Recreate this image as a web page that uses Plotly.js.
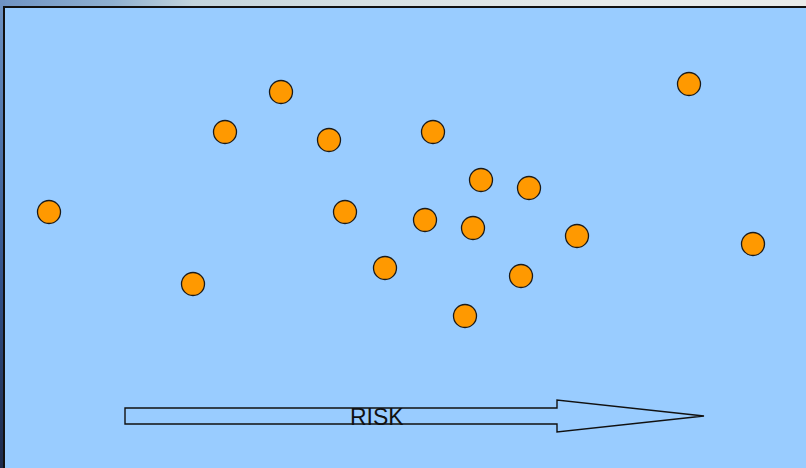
<!DOCTYPE html>
<html>
<head>
<meta charset="utf-8">
<script src="https://cdn.plot.ly/plotly-3.0.1.min.js"></script>
<style>
  html, body { margin: 0; padding: 0; width: 806px; height: 468px; overflow: hidden; }
  #topbar { position: absolute; left: 0; top: 0; width: 806px; height: 8px;
    background: linear-gradient(to right, #6f93c3 0%, #8fb0d0 14%, #c3d4dc 24%, #d6e0e3 45%, #e6eaea 75%, #e8ebea 100%); }
  #leftbar { position: absolute; left: 0; top: 0; width: 5px; height: 468px;
    background: linear-gradient(to bottom, #6f93c3 0%, #4f74aa 30%, #33528a 60%, #1d2a4a 100%); }
  #chart { position: absolute; left: 0; top: 0; width: 806px; height: 468px; }
</style>
</head>
<body>
<div id="topbar"></div>
<div id="leftbar"></div>
<div id="chart"></div>
<script>
// Item positions (x = risk, y = vertical position)
const xValues = [49, 193, 225, 281, 329, 345, 385, 425, 433, 465, 473, 481, 521, 529, 577, 689, 753];
const yValues = [212, 284, 132, 92, 140, 212, 268, 220, 132, 316, 228, 180, 276, 188, 236, 84, 244];
const arrowLabel = "RISK";

const trace = {
  type: "scatter",
  mode: "markers",
  x: xValues,
  y: yValues,
  hoverinfo: "skip",
  marker: { size: 23, color: "#FF9900", line: { color: "#1a1a1a", width: 1.3 } }
};

const layout = {
  width: 806, height: 468,
  margin: { l: 5, t: 8, r: 0, b: 0, pad: 0 },
  paper_bgcolor: "rgba(0,0,0,0)",
  plot_bgcolor: "#99CCFF",
  showlegend: false,
  xaxis: { range: [5, 806], showgrid: false, zeroline: false, showticklabels: false, ticks: "",
           showline: true, side: "top", linecolor: "#111", linewidth: 2, fixedrange: true },
  yaxis: { range: [468, 8], showgrid: false, zeroline: false, showticklabels: false, ticks: "",
           showline: true, linecolor: "#111", linewidth: 2, fixedrange: true },
  shapes: [{
    type: "path", xref: "x", yref: "y",
    path: "M 125 408 L 557 408 L 557 400 L 704 416 L 557 432 L 557 424 L 125 424 Z",
    fillcolor: "rgba(0,0,0,0)",
    line: { color: "#111", width: 1.4 }
  }],
  annotations: [{
    x: 377, y: 417, xref: "x", yref: "y", text: arrowLabel, showarrow: false,
    font: { family: "Liberation Sans, Arial, sans-serif", size: 23, color: "#111" },
    xanchor: "center", yanchor: "middle"
  }]
};

Plotly.newPlot("chart", [trace], layout, { staticPlot: true, displayModeBar: false });
</script>
</body>
</html>
